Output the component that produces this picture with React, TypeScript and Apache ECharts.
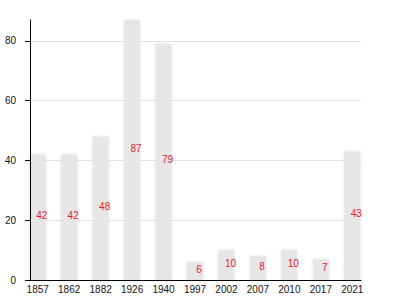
import React, { useEffect, useRef } from "react";
import * as echarts from "echarts";

const years = ["1857", "1862", "1882", "1926", "1940", "1997", "2002", "2007", "2010", "2017", "2021"];
const values = [42, 42, 48, 87, 79, 6, 10, 8, 10, 7, 43];
const yTicks = [0, 20, 40, 60, 80];
const yMax = 87;
const yInterval = 20;

export default function App() {
  const ref = useRef<HTMLDivElement>(null);
  useEffect(() => {
    if (!ref.current) return;
    const chart = echarts.init(ref.current, null, { renderer: "svg" });
    const font = "'Liberation Sans', Arial, sans-serif";
    chart.setOption({
      animation: false,
      textStyle: { fontFamily: font },
      grid: [
        { left: 30, right: 39, top: 20, bottom: 20 },
        { left: 22, right: 32, top: 20, bottom: 20 },
      ],
      xAxis: [
        {
          type: "category",
          gridIndex: 0,
          data: years,
          axisLine: { show: true, lineStyle: { color: "#000", width: 1 } },
          axisTick: { show: false },
          axisLabel: { show: false },
          z: 10,
        },
        {
          type: "category",
          gridIndex: 1,
          data: years,
          axisLine: { show: false },
          axisTick: { show: false },
          axisLabel: { show: true, color: "#111", fontSize: 10, margin: 4, fontFamily: font },
        },
      ],
      yAxis: [
        {
          type: "value",
          gridIndex: 0,
          position: "left",
          min: 0,
          max: yMax,
          interval: yInterval,
          axisLine: { show: false },
          axisTick: { show: false },
          axisLabel: { show: false },
          splitLine: { show: true, showMaxLine: false, lineStyle: { color: "#e3e3e3", width: 1 } },
        },
        {
          type: "value",
          gridIndex: 0,
          position: "left",
          offset: 0,
          min: 0,
          max: yMax,
          interval: yInterval,
          z: 10,
          axisLine: { show: true, lineStyle: { color: "#000", width: 1 } },
          axisTick: { show: true, length: 5, customValues: yTicks, lineStyle: { color: "#000" } },
          axisLabel: {
            show: true,
            customValues: yTicks,
            color: "#111",
            fontSize: 10,
            margin: 14,
            fontFamily: font,
          },
          splitLine: { show: false },
        },
        {
          type: "value",
          gridIndex: 1,
          min: 0,
          max: yMax,
          show: false,
          splitLine: { show: false },
        },
      ],
      series: [
        {
          type: "bar",
          xAxisIndex: 1,
          yAxisIndex: 2,
          data: values,
          barWidth: 16,
          itemStyle: {
            color: "#e6e6e6",
            shadowBlur: 3,
            shadowColor: "rgba(0,0,0,0.12)",
          },
          label: {
            show: true,
            position: "inside",
            offset: [4, -2],
            color: "#e8212e",
            fontSize: 10,
            fontFamily: font,
          },
        },
      ],
    });
    return () => chart.dispose();
  }, []);
  return <div ref={ref} style={{ width: 400, height: 300, position: "absolute", left: 0, top: 0 }} />;
}
